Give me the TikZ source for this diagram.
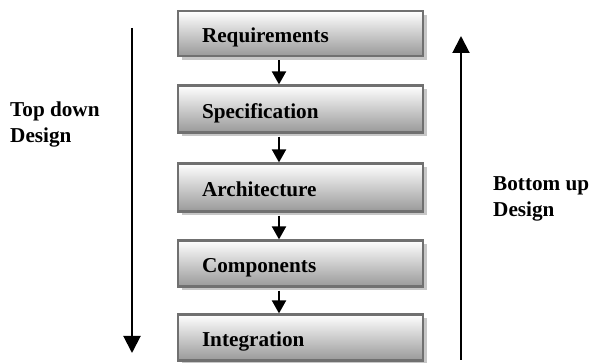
\documentclass[tikz,border=0pt]{standalone}
\usepackage{fontspec}
\setmainfont{Liberation Serif}
\usetikzlibrary{arrows.meta,shadows}

\tikzset{
  stagebox/.style={
    rectangle, draw=black!56, line width=2.2pt,
    shading=axis, top color=white, bottom color=black!40,
    general shadow={fill=black!22, shadow xshift=4pt, shadow yshift=-4pt},
    minimum width=245pt, text width=197pt, inner xsep=24pt, align=left,
    text height=19pt, text depth=0pt,
    font=\fontsize{21.2}{24}\selectfont\bfseries
  },
  steparrow/.style={line width=2pt, -{Triangle[length=13pt,width=14pt]}},
  flowarrow/.style={line width=2pt, -{Triangle[length=17pt,width=17pt]}},
  sidelabel/.style={align=left, inner sep=0pt,
    font=\fontsize{21.2}{26}\selectfont\bfseries}
}

\begin{document}
\begin{tikzpicture}[x=1pt, y=-1pt]
  \useasboundingbox (0,0) rectangle (590,363);

  % the five design stages
  \node[stagebox, minimum height=45pt] (req)  at (300.5,33.5)  {Requirements};
  \node[stagebox, minimum height=47pt] (spec) at (300.5,109)   {Specification};
  \node[stagebox, minimum height=48pt] (arch) at (300.5,187.5) {Architecture};
  \node[stagebox, minimum height=46pt] (comp) at (300.5,263.5) {Components};
  \node[stagebox, minimum height=46pt] (intg) at (300.5,337.5) {Integration};

  % steps between stages
  \coordinate (sx) at (279,0);
  \draw[steparrow] ([yshift=-3pt]req.south  -| sx) -- (spec.north -| sx);
  \draw[steparrow] ([yshift=-3pt]spec.south -| sx) -- (arch.north -| sx);
  \draw[steparrow] ([yshift=-3pt]arch.south -| sx) -- (comp.north -| sx);
  \draw[steparrow] ([yshift=-3pt]comp.south -| sx) -- (intg.north -| sx);

  % overall design directions
  \coordinate (tdtop) at (132,28);
  \coordinate (tdbot) at (132,353);
  \draw[flowarrow] (tdtop) -- (tdbot);
  \coordinate (bubot) at (461,360);
  \coordinate (butop) at (461,36);
  \draw[flowarrow] (bubot) -- (butop);

  % labels, anchored on the baseline of their last line
  \node[sidelabel, anchor=base west] (td) at (10,143) {Top down\\Design};
  \node[sidelabel, anchor=base west] (bu) at (493,217) {Bottom up\\Design};
\end{tikzpicture}
\end{document}
